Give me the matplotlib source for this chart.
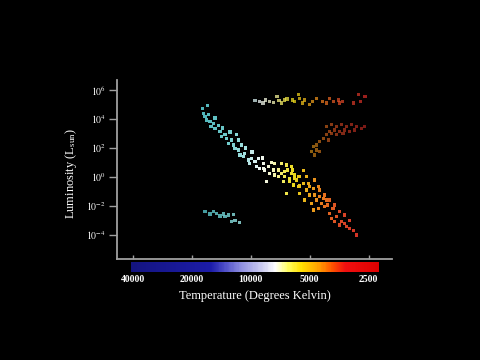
"""
Hertzsprung-Russell diagram: luminosity vs surface temperature,
black background, stars coloured by temperature, colour strip under the axis.
"""

import numpy as np
import matplotlib
matplotlib.use("Agg")
import matplotlib.pyplot as plt
from matplotlib.colors import LinearSegmentedColormap, LogNorm

plt.rcParams["font.family"] = ["Liberation Serif", "DejaVu Serif"]
plt.rcParams["mathtext.fontset"] = "stix"

# --- data (temperature in K, log10 luminosity in L_sun) ---
ms_temp = [17650, 16650, 17450, 17110, 16455, 16770, 16130, 15520, 15940, 15210,
           14635, 14345, 14060, 13530, 13260, 13020, 12500, 12260, 11790, 12030,
           11570, 11120, 11340, 10930, 10700, 10290, 9890, 10090, 9510, 9330,
           9150, 8970, 8610, 8460, 8140, 7980, 7680, 7520, 8290, 7230,
           6960, 6690, 6560, 6960, 6180, 6310, 5950, 5720, 6560, 8560,
           7520, 7230, 6690, 6180, 6310, 6830, 5950, 5830, 5610, 5400,
           5180, 6060, 5720, 5400, 5090, 5610, 5180, 4990, 4800, 4700,
           4520, 5290, 4890, 4800, 4610, 4440, 4350, 4270, 4100, 3945,
           4520, 4180, 3945, 3800, 3870, 3650, 3510, 3720, 3440, 3310,
           3250, 3120, 3000, 2890, 3510, 6460, 6090, 5610, 4990, 4440,
           4180, 4700, 4040, 3720, 3310, 3120, 15210, 14000, 12760, 11570,
           10580, 9850, 8720, 7800]
ms_logL = [4.74, 4.92, 4.39, 4.16, 4.28, 3.93, 3.81, 3.70, 3.47, 3.36,
           3.54, 3.12, 2.78, 2.94, 2.67, 2.32, 2.55, 2.21, 2.90, 1.98,
           1.86, 2.21, 1.52, 1.40, 1.63, 1.17, 1.29, 0.94, 1.05, 0.71,
           1.29, 0.60, 0.94, 0.48, 0.71, 0.26, 0.48, 0.14, -0.32, 0.02,
           0.26, 0.02, 0.83, 0.94, 0.71, -0.32, -0.09, 0.02, -1.12, 0.60,
           0.90, 0.48, 0.37, 0.26, -0.09, -0.32, 0.14, -0.21, 0.02, 0.43,
           0.02, -0.55, -0.67, -0.43, -0.43, -1.12, -0.90, -1.24, -0.78, -0.21,
           -0.67, -1.59, -1.81, -2.28, -1.59, -1.36, -1.81, -1.47, -1.59, -1.59,
           -2.16, -2.05, -2.50, -2.16, -2.85, -2.74, -2.39, -3.08, -3.08, -3.19,
           -3.43, -3.54, -3.66, -4.00, -3.31, 0.48, 0.48, -0.62, -0.67, -0.90,
           -1.24, -1.24, -1.93, -1.93, -2.62, -2.97, 4.07, 3.38, 3.10, 2.55,
           2.00, 1.72, 1.31, 1.03]

giant_temp = [4100, 3870, 3650, 3440, 3250, 3060, 2890, 2730, 2620, 3945,
              3720, 3510, 3310, 3120, 2940, 4100, 3870, 3650, 3380, 4270,
              4020, 4440, 4610, 4800, 4610, 4890, 4440, 4700]
giant_logL = [3.47, 3.59, 3.47, 3.59, 3.47, 3.59, 3.47, 3.36, 3.47, 3.12,
              3.24, 3.12, 3.24, 3.12, 3.24, 2.90, 3.01, 2.90, 3.01, 2.67,
              2.55, 2.43, 2.21, 2.09, 1.86, 1.74, 1.74, 1.52]

supergiant_temp = [9510, 8970, 8650, 8380, 7980, 7610, 7340, 7170, 6930, 6690,
                   6530, 6140, 5950, 5720, 5610, 5420, 5290, 4990, 4820, 4610,
                   4300, 4110, 3945, 3780, 3560, 3510, 3390, 3000, 2830, 2740,
                   2610]
supergiant_logL = [5.26, 5.19, 5.10, 5.31, 5.19, 5.12, 5.54, 5.26, 5.10, 5.31,
                   5.38, 5.31, 5.19, 5.66, 5.43, 5.10, 5.31, 4.97, 5.19, 5.43,
                   5.19, 5.10, 5.43, 5.19, 5.31, 5.10, 5.19, 5.10, 5.66, 5.19,
                   5.54]

dwarf_temp = [17110, 16130, 15520, 14920, 14345, 13800, 13020, 12260, 12500, 12030,
              11450, 13530]
dwarf_logL = [-2.39, -2.55, -2.39, -2.50, -2.69, -2.55, -2.62, -2.57, -3.08, -3.01,
              -3.12, -2.74]

tick_temps = [40000, 20000, 10000, 5000, 2500]
lum_exponents = [-4, -2, 0, 2, 4, 6]


def log_cmap(name, anchors, t_lo, t_hi):
    """Colormap whose stops are placed by log(temperature)."""
    lo, hi = np.log10(t_lo), np.log10(t_hi)
    stops = sorted(((np.log10(t) - lo) / (hi - lo), c) for t, c in anchors)
    return LinearSegmentedColormap.from_list(name, stops)


# colours of the dots (hot stars teal, cool stars red)
star_cmap = log_cmap("stars", [
    (18000, "#4cb2b8"), (13000, "#72cccc"), (10500, "#a8e2e2"), (9000, "#eef6f6"),
    (7800, "#f6f6c8"), (6800, "#f2ea5a"), (6000, "#ead81a"), (5000, "#eaa61a"),
    (4200, "#e6721e"), (3500, "#d84826"), (2500, "#cc2626")], 2500, 18000)
star_norm = LogNorm(2500, 18000)

# colours of the strip under the axis
bar_cmap = log_cmap("bar", [
    (41000, "#141480"), (16000, "#1c1ca8"), (13500, "#5050c8"), (11000, "#9494e2"),
    (8500, "#d4d4f2"), (7500, "#ffffff"), (6500, "#ffff66"), (5500, "#ffe000"),
    (4500, "#ffa000"), (3800, "#ff5000"), (3300, "#f01010"), (2225, "#e00000")],
    2225, 41000)

fig = plt.figure(figsize=(4.8, 3.6), dpi=100, facecolor="black")
ax = fig.add_axes([0.2438, 0.2806, 0.5729, 0.4972], facecolor="black")

groups = [
    (ms_temp, ms_logL, 1.0),
    (giant_temp, giant_logL, 0.6),
    (supergiant_temp, supergiant_logL, 0.75),
    (dwarf_temp, dwarf_logL, 0.85),
]
for temps, logl, alpha in groups:
    ax.scatter(temps, 10.0 ** np.array(logl), c=temps, cmap=star_cmap, norm=star_norm,
               marker="s", s=5, linewidths=0, alpha=alpha)

ax.set_xscale("log")
ax.set_yscale("log")
ax.set_xlim(48100, 1900)
ax.set_ylim(10 ** -5.655, 10 ** 6.69)

ax.set_xticks(tick_temps)
ax.set_xticklabels([])
ax.xaxis.set_minor_locator(matplotlib.ticker.NullLocator())
ax.set_yticks([10.0 ** e for e in lum_exponents])
ax.set_yticklabels([rf"$10^{{{e}}}$" for e in lum_exponents])
ax.yaxis.set_minor_locator(matplotlib.ticker.NullLocator())

ax.tick_params(axis="x", direction="in", length=3, width=1, color="#a0a0a0")
ax.tick_params(axis="y", direction="out", length=6, width=1, color="#a0a0a0",
               labelcolor="white", labelsize=7, pad=2)
for side in ("top", "right"):
    ax.spines[side].set_visible(False)
for side in ("left", "bottom"):
    ax.spines[side].set_color("#a0a0a0")
    ax.spines[side].set_linewidth(1.3)

# colour strip
cax = fig.add_axes([0.2723, 0.2444, 0.5167, 0.0278], facecolor="black")
edges = np.geomspace(41000, 2225, 300)
centers = np.sqrt(edges[:-1] * edges[1:])
cax.pcolormesh(edges, [0, 1], centers[None, :], cmap=bar_cmap,
               norm=LogNorm(2225, 41000), shading="flat")
cax.set_xscale("log")
cax.set_xlim(41000, 2225)
cax.set_ylim(0, 1)
cax.set_yticks([])
cax.set_xticks(tick_temps)
cax.set_xticklabels([str(t) for t in tick_temps])
cax.xaxis.set_minor_locator(matplotlib.ticker.NullLocator())
cax.tick_params(axis="x", length=0, pad=2, labelsize=7, labelcolor="white")
for lbl in cax.get_xticklabels():
    lbl.set_fontweight("bold")
for s in cax.spines.values():
    s.set_visible(False)

fig.text(0.531, 1 - 296 / 360, "Temperature (Degrees Kelvin)", color="white",
         fontsize=9, ha="center", va="center")
fig.text(71 / 480, 1 - 174 / 360, r"Luminosity ($\mathregular{L_{sun}}$)",
         color="white", fontsize=9, ha="center", va="center", rotation=90)

fig.savefig("out.png", dpi=100, facecolor="black")
